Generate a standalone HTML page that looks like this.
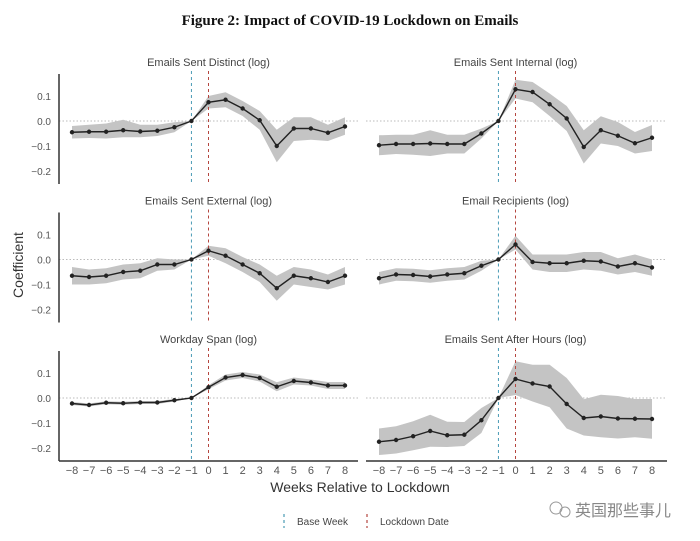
<!DOCTYPE html>
<html><head><meta charset="utf-8">
<style>
html,body{margin:0;padding:0;background:#fff;}
svg{display:block;font-family:"Liberation Sans",sans-serif;}
</style></head>
<body>
<svg id="chart" width="700" height="541" viewBox="0 0 700 541">
<text x="350" y="25" text-anchor="middle" font-family="Liberation Serif, serif" font-weight="bold" font-size="15" fill="#111">Figure 2: Impact of COVID-19 Lockdown on Emails</text>
<text transform="translate(23,265) rotate(-90)" text-anchor="middle" font-size="14" fill="#333">Coefficient</text>
<text x="360" y="492" text-anchor="middle" font-size="14" fill="#333">Weeks Relative to Lockdown</text>
<g>
<line x1="284" y1="514" x2="284" y2="528" stroke="#4a9bb5" stroke-width="1.2" stroke-dasharray="3,3"/>
<text x="297" y="525" font-size="10" fill="#444">Base Week</text>
<line x1="367" y1="514" x2="367" y2="528" stroke="#b5463f" stroke-width="1.2" stroke-dasharray="3,3"/>
<text x="380" y="525" font-size="10" fill="#444">Lockdown Date</text>
</g>
<g>
<circle cx="556" cy="508" r="6" fill="none" stroke="#999" stroke-width="1"/>
<circle cx="565" cy="512" r="5" fill="none" stroke="#999" stroke-width="1"/>
<text x="575" y="516" font-family="Liberation Sans, Noto Sans CJK SC, sans-serif" font-size="16" fill="#888">英国那些事儿</text>
</g>
<g id="panels"></g>
</svg>
<script>
const weeks = [-8,-7,-6,-5,-4,-3,-2,-1,0,1,2,3,4,5,6,7,8];
const yTicks = [0.1,0.0,-0.1,-0.2];
const yTickLabels = ["0.1","0.0","\u22120.1","\u22120.2"];
const xTickLabels = ["\u22128","\u22127","\u22126","\u22125","\u22124","\u22123","\u22122","\u22121","0","1","2","3","4","5","6","7","8"];
const titles = ["Emails Sent Distinct (log)","Emails Sent Internal (log)","Emails Sent External (log)","Email Recipients (log)","Workday Span (log)","Emails Sent After Hours (log)"];

const distinctMean = [-0.045,-0.043,-0.043,-0.037,-0.042,-0.039,-0.025,0,0.075,0.085,0.05,0.003,-0.1,-0.03,-0.03,-0.047,-0.022];
const distinctLo = [-0.07,-0.068,-0.07,-0.065,-0.065,-0.06,-0.045,0,0.05,0.055,0.02,-0.035,-0.165,-0.08,-0.075,-0.08,-0.055];
const distinctHi = [-0.02,-0.015,-0.01,0.005,-0.015,-0.015,-0.005,0,0.1,0.115,0.08,0.04,-0.035,0.015,0.015,-0.015,0.015];

const internalMean = [-0.097,-0.092,-0.092,-0.09,-0.092,-0.092,-0.05,0,0.127,0.116,0.067,0.01,-0.104,-0.037,-0.059,-0.089,-0.067];
const internalLo = [-0.137,-0.132,-0.135,-0.14,-0.13,-0.13,-0.07,0,0.09,0.075,0.02,-0.04,-0.17,-0.09,-0.1,-0.13,-0.12];
const internalHi = [-0.057,-0.055,-0.055,-0.037,-0.055,-0.055,-0.03,0,0.165,0.156,0.11,0.06,-0.037,0.019,-0.004,-0.044,-0.016];

const externalMean = [-0.065,-0.07,-0.065,-0.05,-0.045,-0.02,-0.02,0,0.035,0.015,-0.02,-0.055,-0.115,-0.065,-0.075,-0.09,-0.065];
const externalLo = [-0.1,-0.1,-0.095,-0.08,-0.075,-0.045,-0.04,0,0.015,-0.015,-0.05,-0.09,-0.165,-0.1,-0.11,-0.12,-0.1];
const externalHi = [-0.03,-0.04,-0.035,-0.02,-0.015,0.005,0,0,0.055,0.045,0.01,-0.02,-0.065,-0.03,-0.04,-0.06,-0.03];

const recipMean = [-0.075,-0.06,-0.062,-0.068,-0.06,-0.055,-0.025,0,0.06,-0.01,-0.015,-0.015,-0.005,-0.008,-0.028,-0.015,-0.032];
const recipLo = [-0.1,-0.085,-0.087,-0.093,-0.085,-0.08,-0.045,0,0.04,-0.04,-0.05,-0.05,-0.04,-0.045,-0.06,-0.05,-0.065];
const recipHi = [-0.05,-0.035,-0.037,-0.043,-0.035,-0.03,-0.005,0,0.095,0.02,0.02,0.02,0.03,0.03,0.005,0.02,0.0];

const spanMean = [-0.022,-0.028,-0.019,-0.021,-0.018,-0.018,-0.009,0,0.043,0.082,0.092,0.08,0.045,0.068,0.062,0.05,0.05];
const spanLo = [-0.028,-0.034,-0.025,-0.027,-0.024,-0.024,-0.014,0,0.035,0.07,0.08,0.066,0.027,0.054,0.05,0.036,0.036];
const spanHi = [-0.016,-0.022,-0.013,-0.015,-0.012,-0.012,-0.004,0,0.051,0.094,0.104,0.094,0.063,0.082,0.074,0.064,0.064];

const afterMean = [-0.175,-0.168,-0.153,-0.132,-0.149,-0.147,-0.089,0,0.076,0.058,0.046,-0.024,-0.08,-0.074,-0.082,-0.083,-0.084];
const afterLo = [-0.228,-0.222,-0.209,-0.195,-0.196,-0.192,-0.14,0,0.012,-0.014,-0.037,-0.122,-0.15,-0.157,-0.162,-0.157,-0.163];
const afterHi = [-0.122,-0.113,-0.093,-0.067,-0.095,-0.096,-0.04,0,0.147,0.133,0.133,0.08,-0.005,0.013,0.008,-0.004,-0.004];

const NS = "http://www.w3.org/2000/svg";
const root = document.getElementById('panels');
function mk(tag, attrs, parent){const e=document.createElementNS(NS,tag);for(const k in attrs)e.setAttribute(k,attrs[k]);(parent||root).appendChild(e);return e;}

const series = [
 [distinctMean,distinctLo,distinctHi],[internalMean,internalLo,internalHi],
 [externalMean,externalLo,externalHi],[recipMean,recipLo,recipHi],
 [spanMean,spanLo,spanHi],[afterMean,afterLo,afterHi]];
const names = ["distinct","internal","external","recipients","workday-span","after-hours"];

for(let p=0;p<6;p++){
  const col=p%2,row=Math.floor(p/2);
  const zeroY=[121,259.5,398][row];
  const x0=col===0?72:379, x8=col===0?345:652;
  const xs=w=>x0+(w+8)*(x8-x0)/16;
  const ys=v=>zeroY-v*250;
  const left=col===0?59:366, right=col===0?358:667;
  const g=mk('g',{});
  
  
  const t=mk('text',{x:(x0+x8)/2,y:zeroY-55,'text-anchor':'middle','font-size':'11',fill:'#444'},g);
  t.textContent=titles[p];
  
  
  const zl=mk('line',{x1:left,x2:right,y1:zeroY,y2:zeroY,stroke:'#bbb','stroke-width':1,'stroke-dasharray':'1.5,2'},g);
  
  
  if(col===0){
    const ax=mk('line',{x1:59,x2:59,y1:zeroY-47,y2:zeroY+63,stroke:'#333','stroke-width':1.5},g);
    
    
    yTicks.forEach((v,i)=>{
      const tx=mk('text',{x:51,y:ys(v)+4,'text-anchor':'end','font-size':'10',fill:'#555'},g);
      tx.textContent=yTickLabels[i];
      
      
    });
  }
  const [m,lo,hi]=series[p];
  let d='';
  weeks.forEach((w,i)=>{d+=(i?'L':'M')+xs(w)+','+ys(hi[i]);});
  for(let i=weeks.length-1;i>=0;i--)d+='L'+xs(weeks[i])+','+ys(lo[i]);
  const band=mk('path',{d:d+'Z',fill:'#c4c4c4'},g);
  
  
  const vb=mk('line',{x1:xs(-1),x2:xs(-1),y1:zeroY-50,y2:zeroY+62,stroke:'#4a9bb5','stroke-width':1,'stroke-dasharray':'3,3'},g);
  
  
  const vr=mk('line',{x1:xs(0),x2:xs(0),y1:zeroY-50,y2:zeroY+62,stroke:'#b5463f','stroke-width':1,'stroke-dasharray':'3,3'},g);
  
  
  const pts=weeks.map((w,i)=>xs(w)+','+ys(m[i])).join(' ');
  const ln=mk('polyline',{points:pts,fill:'none',stroke:'#222','stroke-width':1.4},g);
  
  
  weeks.forEach((w,i)=>{
    const c=mk('circle',{cx:xs(w),cy:ys(m[i]),r:2.2,fill:'#222'},g);
    
    
  });
  if(row===2){
    const bx=mk('line',{x1:left,x2:right,y1:461,y2:461,stroke:'#333','stroke-width':1.5},g);
    
    
    weeks.forEach((w,i)=>{
      const tx=mk('text',{x:xs(w),y:474,'text-anchor':'middle','font-size':'11',fill:'#555'},g);
      tx.textContent=xTickLabels[i];
      
      
    });
  }
}
</script>
</body></html>
